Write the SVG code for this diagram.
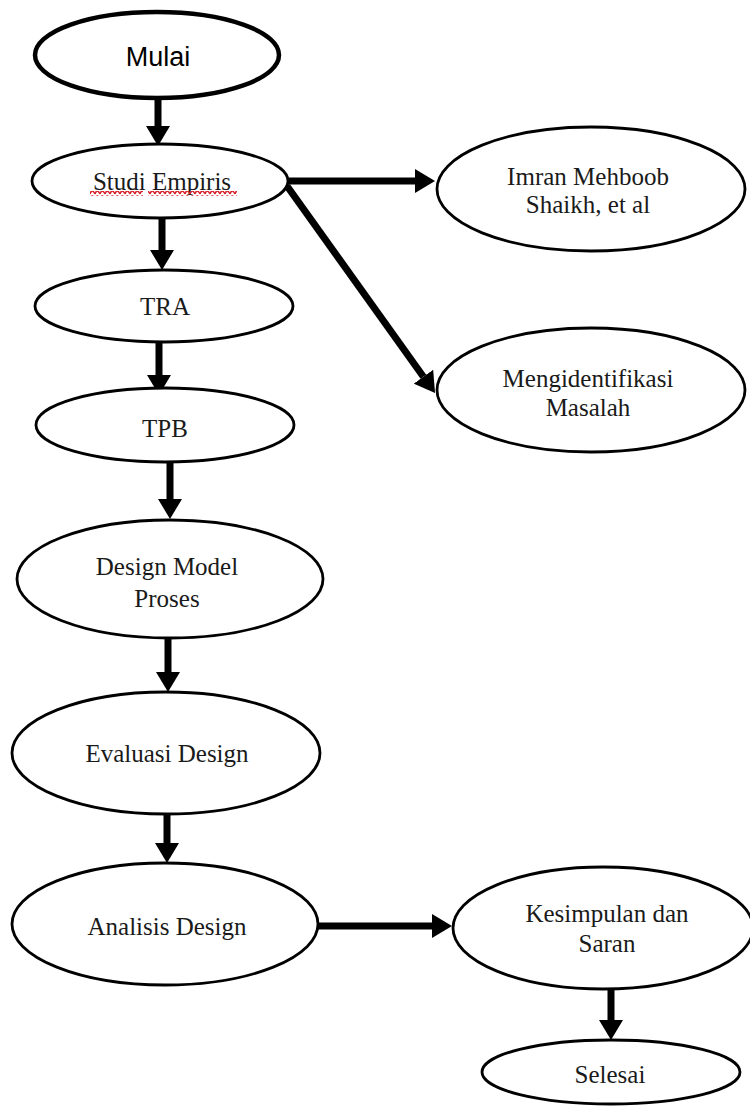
<svg xmlns="http://www.w3.org/2000/svg" width="750" height="1107" viewBox="0 0 750 1107">
  <style>
    .node { fill: #ffffff; stroke: #000000; stroke-width: 2.8; }
    .node-start { fill: #ffffff; stroke: #000000; stroke-width: 4.5; }
    .label { font-family: "Liberation Serif", "Times New Roman", serif; font-size: 25px; fill: #1a1a1a; text-anchor: middle; }
    .label-sans { font-family: "Liberation Sans", Arial, sans-serif; font-size: 27px; fill: #000000; text-anchor: middle; }
    .edge { stroke: #000000; stroke-width: 7; fill: none; marker-end: url(#head); }
  </style>
  <defs>
    <marker id="head" markerUnits="userSpaceOnUse" markerWidth="20" markerHeight="24" viewBox="0 0 20 24" refX="0" refY="12" orient="auto">
      <path d="M0,0 L20,12 L0,24 Z" fill="#000000"/>
    </marker>
    <pattern id="squiggle" width="5" height="5" patternUnits="userSpaceOnUse">
      <path d="M0,4 Q1.25,0.5 2.5,1 T5,4" fill="none" stroke="#d8202a" stroke-width="1.5"/>
    </pattern>
  </defs>

  <!-- connectors -->
  <g id="connectors">
    <line class="edge" x1="158" y1="99" x2="158" y2="126"/>
    <line class="edge" x1="162" y1="218" x2="162" y2="250"/>
    <line class="edge" x1="159" y1="342" x2="159" y2="375"/>
    <line class="edge" x1="170" y1="462" x2="170" y2="499"/>
    <line class="edge" x1="168" y1="638" x2="168" y2="672"/>
    <line class="edge" x1="167" y1="815" x2="167" y2="843"/>
    <line class="edge" x1="611" y1="990" x2="611" y2="1020"/>
    <line class="edge" x1="288" y1="181" x2="415" y2="181"/>
    <line class="edge" x1="317" y1="926" x2="432" y2="926"/>
    <line class="edge" x1="287" y1="186" x2="423.4" y2="376.7"/>
  </g>

  <g id="mulai">
    <ellipse class="node-start" cx="157" cy="55" rx="122" ry="43"/>
    <text class="label-sans" x="158" y="66">Mulai</text>
  </g>

  <g id="studi-empiris">
    <ellipse class="node" cx="160" cy="181" rx="128" ry="37"/>
    <text class="label" x="162" y="190">Studi Empiris</text>
    <!-- spell-check wave under both words -->
    <rect x="90" y="191" width="53" height="5" fill="url(#squiggle)"/>
    <rect x="148" y="191" width="89" height="5" fill="url(#squiggle)"/>
  </g>

  <g id="imran">
    <ellipse class="node" cx="591" cy="189" rx="154" ry="62"/>
    <text class="label" x="588" y="185">Imran Mehboob</text>
    <text class="label" x="588" y="213">Shaikh, et al</text>
  </g>

  <g id="mengidentifikasi">
    <ellipse class="node" cx="591" cy="390" rx="154" ry="62"/>
    <text class="label" x="588" y="387">Mengidentifikasi</text>
    <text class="label" x="588" y="416">Masalah</text>
  </g>

  <g id="tra">
    <ellipse class="node" cx="164" cy="306" rx="129" ry="36"/>
    <text class="label" x="165" y="315">TRA</text>
  </g>

  <g id="tpb">
    <ellipse class="node" cx="165" cy="425" rx="129" ry="37"/>
    <text class="label" x="165" y="437">TPB</text>
  </g>

  <g id="design-model">
    <ellipse class="node" cx="170" cy="579" rx="153" ry="59"/>
    <text class="label" x="167" y="575">Design Model</text>
    <text class="label" x="167" y="607">Proses</text>
  </g>

  <g id="evaluasi">
    <ellipse class="node" cx="166" cy="753" rx="154" ry="61"/>
    <text class="label" x="167" y="762">Evaluasi Design</text>
  </g>

  <g id="analisis">
    <ellipse class="node" cx="165" cy="924" rx="153" ry="61"/>
    <text class="label" x="167" y="935">Analisis Design</text>
  </g>

  <g id="kesimpulan">
    <ellipse class="node" cx="603" cy="928" rx="150" ry="61"/>
    <text class="label" x="607" y="922">Kesimpulan dan</text>
    <text class="label" x="607" y="952">Saran</text>
  </g>

  <g id="selesai">
    <ellipse class="node" cx="611" cy="1072" rx="129" ry="32"/>
    <text class="label" x="610" y="1083">Selesai</text>
  </g>
</svg>
